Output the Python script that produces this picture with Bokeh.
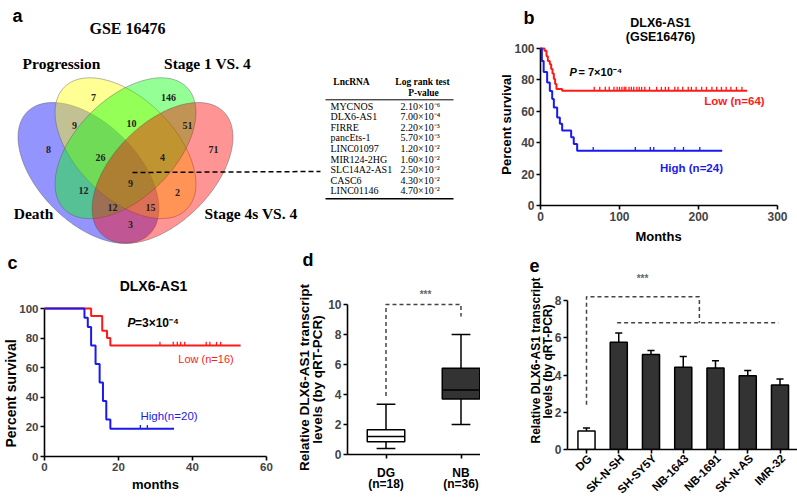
import math
import numpy as np
from bokeh.plotting import figure
from bokeh.models import Range1d, FixedTicker, CustomJSTickFormatter
from bokeh.layouts import row, column
from bokeh.core.properties import value
from bokeh.embed import file_html
from bokeh.resources import INLINE

SANS = "Liberation Sans"
SERIF = "Liberation Serif"

# ------------------------------------------------------------------ data
# panel a : Venn diagram (GSE16476) and table
venn_title = "GSE 16476"
venn_sets = ["Death", "Progression", "Stage 1 VS. 4", "Stage 4s VS. 4"]
venn_regions = ["D", "P", "S1", "S4s", "D&P", "P&S1", "S1&S4s", "D&S4s", "D&P&S1",
                "P&S1&S4s", "D&S1", "P&S4s", "D&S1&S4s", "D&P&S4s", "D&P&S1&S4s"]
venn_counts = [8, 7, 146, 71, 9, 10, 51, 3, 26, 4, 12, 2, 12, 15, 9]
lnc_names = ["MYCNOS", "DLX6-AS1", "FIRRE", "pancEts-1", "LINC01097", "MIR124-2HG",
             "SLC14A2-AS1", "CASC6", "LINC01146"]
lnc_pvalues = [2.1e-6, 7.0e-4, 2.2e-3, 5.7e-3, 1.2e-2, 1.6e-2, 2.5e-2, 4.3e-2, 4.7e-2]

# panel b : Kaplan-Meier, GSE16476
b_gene = "DLX6-AS1"
b_pvalue = 7e-4
b_low_n, b_high_n = 64, 24
b_low_t = [0, 5.1, 7.6, 9.3, 11.8, 13.5, 15.2, 16.9, 18.5, 20.2, 27.4]
b_low_s = [100, 98.5, 95, 92, 90, 87, 84, 80.5, 77.4, 74.2, 73.1]
b_low_end = 261.6
b_low_cens = [68, 75, 82, 87, 93, 97, 100, 103, 106, 108, 112, 115, 118, 122, 125, 128,
              132, 138, 147, 153, 158, 162, 170, 174, 180, 187, 191, 197, 204, 210, 217,
              223, 229, 235, 241, 248, 255]
b_high_t = [0, 1.7, 4.0, 8.4, 11.8, 14.8, 16.9, 21.1, 24.5, 27.4, 38.8, 42.1, 46.4]
b_high_s = [100, 92, 85, 78.4, 73, 67.8, 62.5, 56, 52, 47.7, 43.4, 39.2, 34.8]
b_high_end = 230
b_high_cens = [66.7, 120, 139, 143.4, 170, 181, 201.6]
b_xticks = [0, 100, 200, 300]
b_yticks = [0, 20, 40, 60, 80, 100]

# panel c : Kaplan-Meier, own cohort
c_pvalue = 3e-4
c_low_n, c_high_n = 16, 20
c_low_t = [0, 12.6, 15.6, 16.9, 17.8]
c_low_s = [100, 95, 85, 80, 75]
c_low_end = 53
c_low_cens = [31.2, 34.8, 35.9, 36.8, 37.9, 43.7, 44.7, 46.5, 47.6]
c_high_t = [0, 10.8, 11.7, 12.6, 13.8, 14.9, 15.8, 16.7, 17.8]
c_high_s = [100, 93.75, 87.5, 75, 62.5, 50, 37.5, 25, 18.75]
c_high_end = 35
c_high_cens = [25.9, 27.8]
c_xticks = [0, 20, 40, 60]
c_yticks = [0, 20, 40, 60, 80, 100]

# panel d : box plot
d_groups = ["DG", "NB"]
d_n = [18, 36]
d_low = [0.4, 2.0]
d_q1 = [0.85, 3.7]
d_med = [1.2, 4.3]
d_q3 = [1.65, 5.75]
d_high = [3.35, 8.0]
d_bracket = [3.9, 10.0, 9.2]
d_yticks = [0, 2, 4, 6, 8, 10]

# panel e : bar chart
e_lines = ["DG", "SK-N-SH", "SH-SY5Y", "NB-1643", "NB-1691", "SK-N-AS", "IMR-32"]
e_mean = [1.0, 5.76, 5.1, 4.42, 4.37, 3.96, 3.46]
e_err = [0.16, 0.5, 0.21, 0.57, 0.39, 0.28, 0.32]
e_bracket = [2.4, 8.2, 6.8]
e_yticks = [0, 2, 4, 6, 8]

ylab1 = "Relative DLX6-AS1 transcript"
ylab2 = "levels (by qRT-PCR)"

RED = "#ff1a1a"
BLUE = "#1a1aee"

SUP = str.maketrans("-0123456789", "⁻⁰¹²³⁴⁵⁶⁷⁸⁹")


def sci(p, digits):
    e = int(math.floor(math.log10(p)))
    m = p / 10 ** e
    return f"{m:.{digits}f}×10" + str(e).translate(SUP)


# ------------------------------------------------------------------ helpers
class Fr:
    """maps picture pixels to data coordinates of one plot"""
    def __init__(s, left, top, x0, kx, ytop, ky):
        s.left, s.top, s.x0, s.kx, s.ytop, s.ky = left, top, x0, kx, ytop, ky

    def x(s, px):
        return s.x0 + (px - s.left) / s.kx

    def y(s, py):
        return s.ytop - (py - s.top) / s.ky


def lab(p, fr, px, py, text, size, color="black", style="bold", align="center",
        baseline="middle", angle=0.0, font=SANS, dx=None):
    x = fr.x(px) if dx is None else dx
    r = p.text(x=[x], y=[fr.y(py)], text=[text], text_font=value(font),
               text_font_size=f"{size}px", text_font_style=style, text_color=color,
               text_align=align, text_baseline=baseline, angle=angle)
    r.level = "overlay"


def make_plot(w, h, xr, yr, left, right, top, bottom, tick_size):
    p = figure(width=w, height=h, x_range=xr, y_range=yr, output_backend="svg",
               toolbar_location=None, min_border_left=left, min_border_right=right,
               min_border_top=top, min_border_bottom=bottom)
    p.frame_align = False
    p.outline_line_color = None
    p.grid.visible = False
    for ax in p.axis:
        ax.axis_line_width = 1.6
        ax.axis_line_color = "black"
        ax.major_tick_line_width = 1.6
        ax.major_tick_out = 4
        ax.major_tick_in = 0
        ax.minor_tick_line_color = None
        ax.major_label_text_font = SANS
        ax.major_label_text_font_style = "bold"
        ax.major_label_text_font_size = tick_size
        ax.major_label_standoff = 2
    return p


def km(p, t, s, end, cens, color):
    r = p.step(x=list(t) + [end], y=list(s) + [s[-1]], mode="after", line_color=color,
               line_width=2)
    r.level = "overlay"
    ta = np.array(t)
    sa = np.array(s)
    cy = sa[np.searchsorted(ta, np.array(cens), side="right") - 1]
    r2 = p.segment(x0=cens, y0=cy, x1=cens, y1=cy + 2.5, line_color=color, line_width=1.3)
    r2.level = "overlay"


# ------------------------------------------------------------------ panel a
pa = figure(width=495, height=244, x_range=Range1d(0, 495), y_range=Range1d(244, 0),
            x_axis_type=None, y_axis_type=None, output_backend="svg",
            toolbar_location=None, min_border_left=0, min_border_right=0,
            min_border_top=0, min_border_bottom=0)
pa.frame_align = False
pa.outline_line_color = None
pa.grid.visible = False
fa = Fr(0, 0, 0, 1, 0, -1)

VS, VX0, VY0 = 247.0, 1.5, 288.5
VENN_ELL = [(0.35, 0.47, 135), (0.50, 0.57, 135), (0.50, 0.57, 45), (0.65, 0.47, 45)]
VENN_COL = ["#0000ff", "#ffff00", "#00ff00", "#ff0000"]
tt = np.linspace(0, 2 * np.pi, 240)
exs, eys = [], []
for cu, cv, rot in VENN_ELL:
    r = math.radians(rot)
    u = cu + 0.35 * np.cos(tt) * math.cos(r) - 0.2 * np.sin(tt) * math.sin(r)
    v = cv + 0.35 * np.cos(tt) * math.sin(r) + 0.2 * np.sin(tt) * math.cos(r)
    exs.append(list(VX0 + VS * u))
    eys.append(list(VY0 - VS * v))
pa.patches(xs=exs, ys=eys, fill_color=VENN_COL, fill_alpha=0.42, line_color="#555555",
           line_alpha=0.55, line_width=0.8)

REGION_PX = [(48, 149), (93, 97), (168, 97), (213, 149), (74, 125), (131, 123), (187, 125),
             (130, 224), (100, 157), (162, 157), (83, 190), (177, 192), (112, 207),
             (150, 207), (130, 183)]
pa.text(x=[q[0] for q in REGION_PX], y=[q[1] for q in REGION_PX],
        text=[str(c) for c in venn_counts], text_font=value(SERIF), text_font_style="bold",
        text_font_size="10px", text_align="center", text_baseline="middle",
        text_color="#222222")

SET_PX = [(33, 213, "center"), (61, 63, "center"), (207, 63, "center"), (204, 213, "left")]
for name, (sx, sy, al) in zip(venn_sets, SET_PX):
    lab(pa, fa, sx, sy, name, 15.5, font=SERIF, align=al, baseline="alphabetic")
lab(pa, fa, 127, 28, venn_title, 16, font=SERIF, baseline="alphabetic")
lab(pa, fa, 12, 15, "a", 18, align="left", baseline="alphabetic")

# dashed connector
pa.line(x=[132, 320], y=[172, 171], line_color="black", line_width=1.5, line_dash="5 3")

# table
row_y = [105.5 + 10.6 * i for i in range(len(lnc_names))]
pa.text(x=[330] * len(lnc_names), y=row_y, text=lnc_names, text_font=value(SERIF),
        text_font_size="10px", text_align="left", text_baseline="middle")
pa.text(x=[400] * len(lnc_names), y=row_y, text=[sci(p, 2) for p in lnc_pvalues],
        text_font=value(SERIF), text_font_size="10px", text_align="left",
        text_baseline="middle")
lab(pa, fa, 351, 81, "LncRNA", 9.5, font=SERIF)
lab(pa, fa, 422, 81, "Log rank test", 9.5, font=SERIF)
lab(pa, fa, 423, 92.5, "P-value", 9.5, font=SERIF)
pa.segment(x0=[325, 325], y0=[99.3, 198.3], x1=[453, 453], y1=[99.3, 198.3],
           line_color="black", line_width=[1.0, 1.5])

# ------------------------------------------------------------------ panel b
pb = make_plot(302, 244, Range1d(0, 300), Range1d(0, 100), 45, 20, 48, 39, "12px")
pb.xaxis.ticker = FixedTicker(ticks=b_xticks)
pb.yaxis.ticker = FixedTicker(ticks=b_yticks)
fb = Fr(540, 48, 0, 237 / 300, 100, 157 / 100)
km(pb, b_low_t, b_low_s, b_low_end, b_low_cens, RED)
km(pb, b_high_t, b_high_s, b_high_end, b_high_cens, BLUE)
lab(pb, fb, 523, 17, "b", 18, align="left", baseline="alphabetic")
lab(pb, fb, 660, 22, b_gene, 12.5)
lab(pb, fb, 660, 36, "(GSE16476)", 12.5)
lab(pb, fb, 569, 71, "P", 11, style="bold italic", align="left")
lab(pb, fb, 578, 71, "= " + sci(b_pvalue, 0), 11, align="left")
lab(pb, fb, 734, 100, f"Low (n={b_low_n})", 11.5, color=RED)
lab(pb, fb, 691, 167, f"High (n={b_high_n})", 11.5, color=BLUE)
lab(pb, fb, 658, 236, "Months", 13)
lab(pb, fb, 506, 124, "Percent survival", 13, angle=math.pi / 2)

# ------------------------------------------------------------------ panel c
pc = make_plot(278, 253, Range1d(0, 60), Range1d(0, 100), 44, 12, 64, 41, "11.5px")
pc.xaxis.ticker = FixedTicker(ticks=c_xticks)
pc.yaxis.ticker = FixedTicker(ticks=c_yticks)
fc = Fr(44, 308, 0, 222 / 60, 100, 148 / 100)
km(pc, c_low_t, c_low_s, c_low_end, c_low_cens, RED)
km(pc, c_high_t, c_high_s, c_high_end, c_high_cens, BLUE)
lab(pc, fc, 7, 262, "c", 18, align="left", baseline="alphabetic")
lab(pc, fc, 153, 285, b_gene, 14)
lab(pc, fc, 127, 322, "P", 12, style="bold italic", align="left")
lab(pc, fc, 134.5, 322, "=" + sci(c_pvalue, 0), 12, align="left")
lab(pc, fc, 205.5, 358, f"Low (n={c_low_n})", 11, color=RED, style="normal")
lab(pc, fc, 168.5, 415, f"High(n={c_high_n})", 11.5, color=BLUE, style="normal")
lab(pc, fc, 155, 484, "months", 13)
lab(pc, fc, 10, 393, "Percent survival", 14, angle=math.pi / 2)

# ------------------------------------------------------------------ panel d
xs_d = -(385.5 - 347) / 75
pdp = make_plot(202, 253, Range1d(xs_d, xs_d + 133 / 75), Range1d(0, 10), 69, 0, 60, 43,
                "12px")
fd = Fr(347, 304, xs_d, 75, 10, 15)
dx = list(range(len(d_groups)))
pdp.xaxis.ticker = FixedTicker(ticks=dx)
pdp.xaxis.formatter = CustomJSTickFormatter(code="return ''")
pdp.yaxis.ticker = FixedTicker(ticks=d_yticks)
d_fill = ["white" if g == "DG" else "#333333" for g in d_groups]
pdp.segment(x0=dx, y0=d_q3, x1=dx, y1=d_high, line_color="black", line_width=1.5)
pdp.segment(x0=dx, y0=d_q1, x1=dx, y1=d_low, line_color="black", line_width=1.5)
pdp.segment(x0=[x - 0.125 for x in dx], y0=d_high, x1=[x + 0.125 for x in dx], y1=d_high,
            line_color="black", line_width=1.5)
pdp.segment(x0=[x - 0.125 for x in dx], y0=d_low, x1=[x + 0.125 for x in dx], y1=d_low,
            line_color="black", line_width=1.5)
pdp.vbar(x=dx, bottom=d_q1, top=d_q3, width=0.5, fill_color=d_fill, line_color="black",
         line_width=1.5)
pdp.segment(x0=[x - 0.25 for x in dx], y0=d_med, x1=[x + 0.25 for x in dx], y1=d_med,
            line_color="black", line_width=1.5)
rb = pdp.line(x=[dx[0], dx[0], dx[1], dx[1]],
              y=[d_bracket[0], d_bracket[1], d_bracket[1], d_bracket[2]],
              line_color="#444444", line_width=1.5, line_dash="4 3")
rb.level = "overlay"
lab(pdp, fd, 302, 259, "d", 18, align="left", baseline="alphabetic")
lab(pdp, fd, 304, 377, ylab1, 13.5, angle=math.pi / 2)
lab(pdp, fd, 317, 379, ylab2, 13.5, angle=math.pi / 2)
lab(pdp, fd, 425, 294, "***", 10, color="#666666")
for i, (g, n) in enumerate(zip(d_groups, d_n)):
    lab(pdp, fd, 0, 472.5, g, 12, dx=i)
    lab(pdp, fd, 0, 483.5, f"(n={n})", 12, dx=i)

# ------------------------------------------------------------------ panel e
xs_e = -(586 - 567) / 32.25
pe = make_plot(317, 253, Range1d(xs_e, xs_e + 230 / 32.25), Range1d(0, 8), 87, 0, 56, 48,
               "12px")
fe = Fr(567, 300, xs_e, 32.25, 8, 149 / 8)
ex = list(range(len(e_lines)))
pe.xaxis.ticker = FixedTicker(ticks=ex)
pe.xaxis.formatter = CustomJSTickFormatter(code="return ''")
pe.yaxis.ticker = FixedTicker(ticks=e_yticks)
e_fill = ["white" if g == "DG" else "#333333" for g in e_lines]
e_top = [m + e for m, e in zip(e_mean, e_err)]
pe.segment(x0=ex, y0=e_mean, x1=ex, y1=e_top, line_color="black", line_width=1.5)
pe.segment(x0=[x - 0.11 for x in ex], y0=e_top, x1=[x + 0.11 for x in ex], y1=e_top,
           line_color="black", line_width=1.5)
pe.vbar(x=ex, top=e_mean, bottom=0, width=0.53, fill_color=e_fill, line_color="black",
        line_width=1.5)
mid = (ex[1] + ex[-1]) / 2
r1 = pe.line(x=[ex[0], ex[0], mid, mid], y=[e_bracket[0], e_bracket[1], e_bracket[1],
                                                 e_bracket[2]],
             line_color="#444444", line_width=1.5, line_dash="4 3")
r1.level = "overlay"
r2 = pe.line(x=[ex[1] - 0.05, ex[-1] - 0.05], y=[e_bracket[2], e_bracket[2]],
             line_color="#444444", line_width=1.5, line_dash="4 3")
r2.level = "overlay"
lab(pe, fe, 529, 265, "e", 18, align="left", baseline="alphabetic")
lab(pe, fe, 535, 360, ylab1, 12, angle=math.pi / 2)
lab(pe, fe, 547.5, 361, ylab2, 12, angle=math.pi / 2)
lab(pe, fe, 642, 278, "***", 10, color="#666666")
for i, name in enumerate(e_lines):
    lab(pe, fe, 0, 456, name, 11.5, align="right", angle=math.pi / 4, dx=i + 0.1)

layout = column(row(pa, pb), row(pc, pdp, pe))
open("out.html", "w").write(file_html(layout, INLINE))
